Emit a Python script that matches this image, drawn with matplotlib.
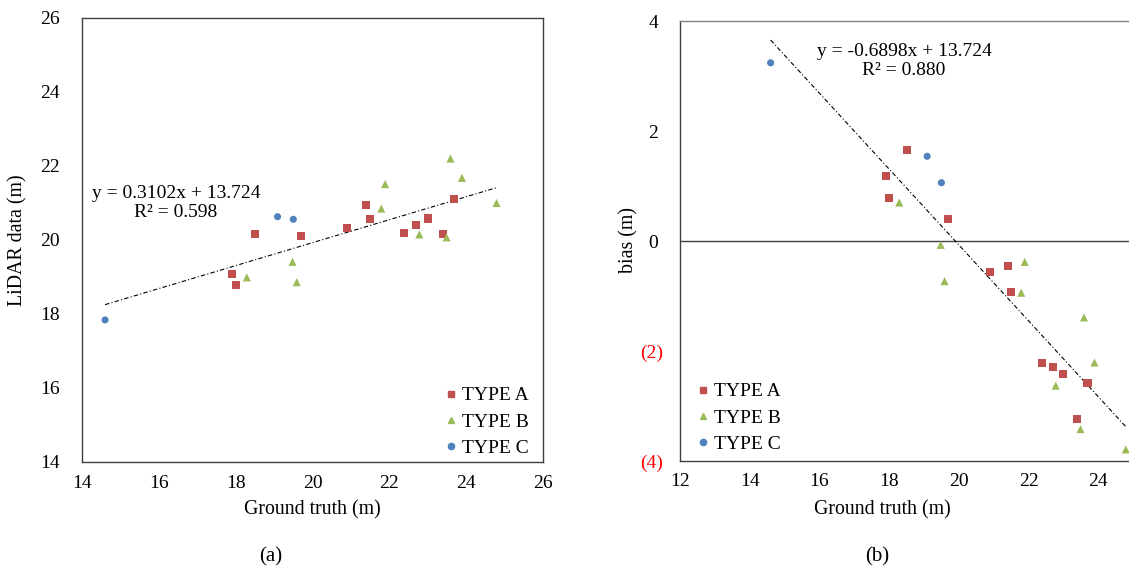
import matplotlib.pyplot as plt
import numpy as np
from matplotlib.lines import Line2D

plt.rcParams['font.family'] = ['Liberation Serif', 'DejaVu Serif']

# ground truth / LiDAR heights (m) per tree type
truth_a = [18.50, 17.90, 18.00, 19.70, 20.89, 21.40, 21.50, 22.39, 22.69, 23.00, 23.40, 23.69]
lidar_a = [20.15, 19.08, 18.78, 20.10, 20.33, 20.95, 20.57, 20.18, 20.40, 20.58, 20.17, 21.11]
truth_b = [18.29, 19.48, 19.59, 21.79, 21.89, 22.78, 23.49, 23.59, 23.89, 24.79]
lidar_b = [18.99, 19.41, 18.86, 20.85, 21.51, 20.15, 20.07, 22.20, 21.68, 21.00]
truth_c = [14.60, 19.09, 19.50]
lidar_c = [17.84, 20.63, 20.56]

labels = ['TYPE A', 'TYPE B', 'TYPE C']
colors = ['#C0504D', '#9BBB59', '#4F81BD']
markers = ['s', '^', 'o']
sizes = [34, 34, 26]

fit_slope, fit_icpt, fit_r2 = 0.3102, 13.724, 0.598
bias_slope, bias_r2 = -0.6898, 0.880

W, H = 1129, 572
fig = plt.figure(figsize=(W / 100, H / 100), dpi=100)
ax1 = fig.add_axes([82 / W, 1 - 462 / H, 461 / W, 444 / H])
ax2 = fig.add_axes([680 / W, 1 - 461 / H, 488 / W, 440 / H])

truths = [np.array(truth_a), np.array(truth_b), np.array(truth_c)]
lidars = [np.array(lidar_a), np.array(lidar_b), np.array(lidar_c)]

for t, l, lab, c, m, s in zip(truths, lidars, labels, colors, markers, sizes):
    ax1.scatter(t, l, s=s, marker=m, color=c, edgecolors='none', zorder=3)
    ax2.scatter(t, l - t, s=s, marker=m, color=c, edgecolors='none', zorder=3)

allx = np.concatenate(truths)
xs = np.array([allx.min(), allx.max()])
ls = (0, (4, 2, 1, 2))
ax1.plot(xs, fit_slope * xs + fit_icpt, color='black', lw=0.8, linestyle=ls, zorder=2)
ax2.plot(xs, bias_slope * xs + fit_icpt, color='black', lw=0.8, linestyle=ls, zorder=2)

# left panel
ax1.set_xlim(14, 26)
ax1.set_ylim(14, 26)
ax1.set_xticks(np.arange(14, 27, 2))
ax1.set_yticks(np.arange(14, 27, 2))
ax1.tick_params(length=0, labelsize=14)
ax1.tick_params(axis='y', pad=16)
ax1.tick_params(axis='x', pad=9)
for sp in ax1.spines.values():
    sp.set_color('#404040')
    sp.set_linewidth(1.0)
ax1.text(16.45, 21.0, 'y = %.4fx + %.3f\nR² = %.3f' % (fit_slope, fit_icpt, fit_r2),
         ha='center', va='center', fontsize=14, linespacing=1.15)

# right panel (the frame runs on past the right edge of the picture)
ax2.set_xlim(12, 26)
ax2.set_ylim(-4, 4)
ax2.set_xticks(np.arange(12, 25, 2))
yt = np.arange(-4, 5, 2)
ylabs = ['(%d)' % abs(v) if v < 0 else '%d ' % v for v in yt]
ax2.set_yticks(yt, ylabs)
for v, tx in zip(yt, ax2.get_yticklabels()):
    if v < 0:
        tx.set_color('red')
ax2.tick_params(length=0, labelsize=14)
ax2.tick_params(axis='y', pad=12)
ax2.tick_params(axis='x', pad=9)
for sp in ax2.spines.values():
    sp.set_color('#404040')
    sp.set_linewidth(1.0)
ax2.spines['top'].set_color('#808080')
ax2.axhline(0, color='#404040', lw=1.0, zorder=1)
ax2.text(18.43, 3.27, 'y = %.4fx + %.3f\nR² = %.3f' % (bias_slope, fit_icpt, bias_r2),
         ha='center', va='center', fontsize=14, linespacing=1.15)

handles = [Line2D([], [], ls='none', marker=m, color=c, markersize=5 if m != 'o' else 4.5)
           for m, c in zip(markers, colors)]
leg_kw = dict(frameon=False, fontsize=14, handletextpad=0.1, labelspacing=0.45,
              handlelength=1.0, borderpad=0, borderaxespad=0, loc='center left')
ax1.legend(handles, labels, bbox_to_anchor=(441 / W, 1 - 422 / H),
           bbox_transform=fig.transFigure, **leg_kw)
ax2.legend(handles, labels, bbox_to_anchor=(693 / W, 1 - 418 / H),
           bbox_transform=fig.transFigure, **leg_kw)

# axis titles and panel letters
fig.text(18 / W, 1 - 240 / H, 'LiDAR data (m)', rotation=90, ha='center', va='center', fontsize=14.3)
fig.text(629 / W, 1 - 240 / H, 'bias (m)', rotation=90, ha='center', va='center', fontsize=14.3)
fig.text(312 / W, 1 - 510 / H, 'Ground truth (m)', ha='center', va='center', fontsize=14.3)
fig.text(882 / W, 1 - 510 / H, 'Ground truth (m)', ha='center', va='center', fontsize=14.3)
fig.text(271 / W, 1 - 557 / H, '(a)', ha='center', va='center', fontsize=15)
fig.text(877 / W, 1 - 557 / H, '(b)', ha='center', va='center', fontsize=15)

fig.savefig('out.png', dpi=100)
